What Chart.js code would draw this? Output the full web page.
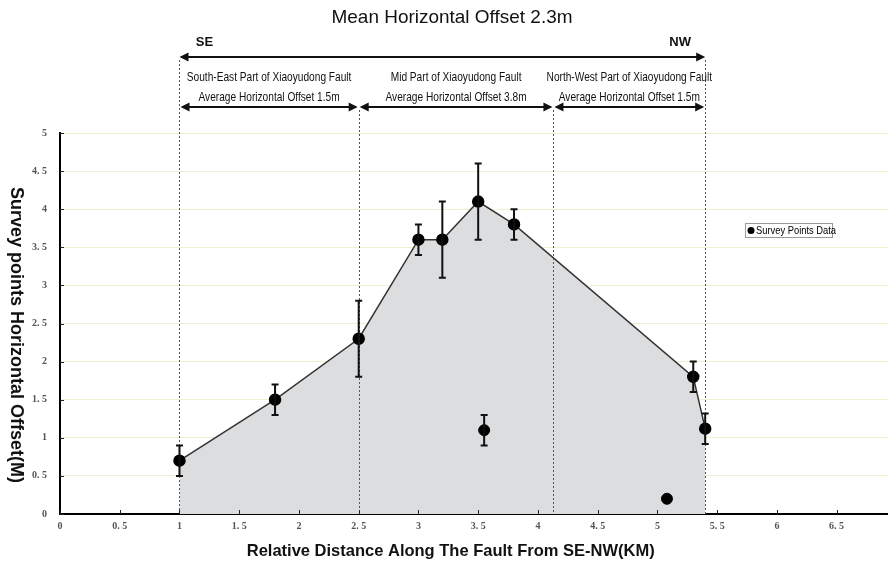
<!DOCTYPE html>
<html>
<head>
<meta charset="utf-8">
<script src="https://cdn.jsdelivr.net/npm/chart.js@4.4.0/dist/chart.umd.min.js"></script>
<style>
  html, body { margin: 0; padding: 0; background: #fff; }
  #chart_container { width: 888px; height: 561px; }
</style>
</head>
<body>
<div id="chart_container"><canvas id="myChart" width="888" height="561"></canvas></div>
<script>
// survey points along the fault (km, offset m, error m)
const distKm = [1.0, 1.8, 2.5, 3.0, 3.2, 3.5, 3.8, 5.3, 5.4];
const offsetM = [0.7, 1.5, 2.3, 3.6, 3.6, 4.1, 3.8, 1.8, 1.12];
const offsetErr = [0.2, 0.2, 0.5, 0.2, 0.5, 0.5, 0.2, 0.2, 0.2];
// points off the envelope
const looseKm = [3.55, 5.08];
const looseM = [1.1, 0.2];
const looseErr = [0.2, 0];

const xTicks = [0, 0.5, 1, 1.5, 2, 2.5, 3, 3.5, 4, 4.5, 5, 5.5, 6, 6.5];
const yTicks = [0, 0.5, 1, 1.5, 2, 2.5, 3, 3.5, 4, 4.5, 5];

// fault segment borders and labels
const segBorders = [1, 2.5, 4.13, 5.4];
const segNames = ['South-East Part of Xiaoyudong Fault', 'Mid Part of Xiaoyudong Fault', 'North-West Part of Xiaoyudong Fault'];
const segAverages = ['Average Horizontal Offset 1.5m', 'Average Horizontal Offset 3.8m', 'Average Horizontal Offset 1.5m'];
const topTitle = 'Mean Horizontal Offset 2.3m';

const tickText = v => (v % 1 === 0 ? String(v) : String(v).replace('.', '. '));

function arrowHead(ctx, x, y, dir) {
  ctx.beginPath();
  ctx.moveTo(x, y);
  ctx.lineTo(x - dir * 9, y - 4.5);
  ctx.lineTo(x - dir * 9, y + 4.5);
  ctx.closePath();
  ctx.fill();
}
function doubleArrow(ctx, x1, x2, y) {
  ctx.beginPath();
  ctx.moveTo(x1 + 2, y);
  ctx.lineTo(x2 - 2, y);
  ctx.stroke();
  arrowHead(ctx, x1, y, -1);
  arrowHead(ctx, x2, y, 1);
}
// condensed text, like the narrow font of the original
function narrowText(ctx, t, x, y, squeeze) {
  const w = ctx.measureText(t).width;
  ctx.fillText(t, x, y, w * squeeze);
}

const annotate = {
  id: 'annotate',
  afterDatasetsDraw(chart) {
    const {ctx, scales: {x, y}} = chart;
    const y0 = y.getPixelForValue(0);
    ctx.save();
    // segment dividers
    ctx.strokeStyle = '#555';
    ctx.lineWidth = 1;
    ctx.setLineDash([2, 2]);
    segBorders.forEach((v, i) => {
      const px = Math.round(x.getPixelForValue(v)) + 0.5;
      const top = (i === 0 || i === segBorders.length - 1) ? 60 : 110;
      ctx.beginPath();
      ctx.moveTo(px, top);
      ctx.lineTo(px, y0);
      ctx.stroke();
    });
    ctx.setLineDash([]);

    // inner tick marks
    ctx.strokeStyle = '#222';
    ctx.lineWidth = 1;
    xTicks.forEach(v => {
      const px = Math.round(x.getPixelForValue(v)) + 0.5;
      ctx.beginPath(); ctx.moveTo(px, y0); ctx.lineTo(px, y0 - 4); ctx.stroke();
    });
    yTicks.forEach(v => {
      const py = Math.round(y.getPixelForValue(v)) + 0.5;
      ctx.beginPath(); ctx.moveTo(x.left, py); ctx.lineTo(x.left + 4, py); ctx.stroke();
    });

    // error bars
    ctx.strokeStyle = '#111';
    ctx.lineWidth = 2;
    const bars = (xs, ys, es) => xs.forEach((v, i) => {
      if (!es[i]) return;
      const px = x.getPixelForValue(v);
      const hi = y.getPixelForValue(ys[i] + es[i]);
      const lo = y.getPixelForValue(ys[i] - es[i]);
      ctx.beginPath();
      ctx.moveTo(px, hi); ctx.lineTo(px, lo);
      ctx.moveTo(px - 3.5, hi); ctx.lineTo(px + 3.5, hi);
      ctx.moveTo(px - 3.5, lo); ctx.lineTo(px + 3.5, lo);
      ctx.stroke();
    });
    bars(distKm, offsetM, offsetErr);
    bars(looseKm, looseM, looseErr);
    ctx.restore();
  },
  afterDraw(chart) {
    const {ctx, scales: {x, y}} = chart;
    ctx.save();
    ctx.fillStyle = '#111';
    ctx.strokeStyle = '#111';
    ctx.textAlign = 'center';
    ctx.textBaseline = 'middle';

    // headline
    ctx.font = '19px "Liberation Sans", Arial, sans-serif';
    ctx.fillText(topTitle, 452, 18, 241);

    const xs = segBorders.map(v => x.getPixelForValue(v));
    ctx.font = 'bold 13px "Liberation Sans", Arial, sans-serif';
    ctx.fillText('SE', xs[0] + 25, 42);
    ctx.fillText('NW', xs[xs.length - 1] - 25, 42);

    ctx.lineWidth = 2;
    doubleArrow(ctx, xs[0], xs[xs.length - 1], 57);

    ctx.font = '13px "Liberation Sans Narrow", "Liberation Sans", Arial, sans-serif';
    for (let i = 0; i < segNames.length; i++) {
      const cx = (xs[i] + xs[i + 1]) / 2;
      narrowText(ctx, segNames[i], cx, 77, 0.78);
      narrowText(ctx, segAverages[i], cx, 97, 0.78);
      doubleArrow(ctx, xs[i] + 1, xs[i + 1] - 1, 107);
    }

    // axis titles
    ctx.font = 'bold 16.5px "Liberation Sans", Arial, sans-serif';
    ctx.fillText('Relative Distance Along The Fault From SE-NW(KM)', x.getPixelForValue(3.27), 551);
    ctx.save();
    ctx.translate(16, 335);
    ctx.rotate(Math.PI / 2);
    ctx.font = 'bold 18px "Liberation Sans", Arial, sans-serif';
    ctx.fillText('Survey points Horizontal Offset(M)', 0, 0);
    ctx.restore();

    // legend
    ctx.strokeStyle = '#999';
    ctx.lineWidth = 1;
    ctx.fillStyle = '#fff';
    ctx.fillRect(745.5, 223.5, 87, 14);
    ctx.strokeRect(745.5, 223.5, 87, 14);
    ctx.fillStyle = '#000';
    ctx.beginPath();
    ctx.arc(751, 230.5, 3.5, 0, Math.PI * 2);
    ctx.fill();
    ctx.textAlign = 'left';
    ctx.font = '11px "Liberation Sans Narrow", "Liberation Sans", Arial, sans-serif';
    narrowText(ctx, 'Survey Points Data', 756, 231, 0.85);
    ctx.restore();
  }
};

const ctx = document.getElementById('myChart').getContext('2d');
const myChart = new Chart(ctx, {
  type: 'scatter',
  data: {
    datasets: [{
      label: 'Survey Points Data',
      data: distKm.map((v, i) => ({x: v, y: offsetM[i]})),
      showLine: true,
      fill: 'origin',
      backgroundColor: '#dcdddf',
      borderColor: '#333',
      borderWidth: 1.5,
      pointRadius: 5.5,
      pointBackgroundColor: '#000',
      pointBorderColor: '#000',
      order: 2
    }, {
      label: 'loose',
      data: looseKm.map((v, i) => ({x: v, y: looseM[i]})),
      showLine: false,
      pointRadius: 5.5,
      pointBackgroundColor: '#000',
      pointBorderColor: '#000',
      order: 1
    }]
  },
  options: {
    responsive: false,
    animation: false,
    devicePixelRatio: 1,
    layout: {autoPadding: false, padding: {top: 133, left: 0, right: 0, bottom: 0}},
    scales: {
      x: {
        type: 'linear',
        min: 0,
        max: 6.93,
        afterBuildTicks: s => { s.ticks = xTicks.map(v => ({value: v})); },
        afterFit: s => { s.height = 47; },
        grid: {display: false, drawTicks: false},
        border: {display: true, color: '#000', width: 2},
        ticks: {
          padding: 6,
          color: '#555',
          maxRotation: 0,
          font: {family: '"Liberation Serif", "DejaVu Serif", serif', size: 10, weight: 'bold'},
          callback: v => tickText(v)
        }
      },
      y: {
        min: 0,
        max: 5,
        afterBuildTicks: s => { s.ticks = yTicks.map(v => ({value: v})); },
        afterFit: s => { s.width = 60; },
        grid: {color: 'rgba(228, 228, 170, 0.55)', drawTicks: false},
        border: {display: true, color: '#000', width: 2},
        ticks: {
          padding: 13,
          color: '#555',
          font: {family: '"Liberation Serif", "DejaVu Serif", serif', size: 10, weight: 'bold'},
          callback: v => tickText(v)
        }
      }
    },
    plugins: {
      legend: {display: false},
      tooltip: {enabled: false}
    }
  },
  plugins: [annotate]
});
</script>
</body>
</html>
